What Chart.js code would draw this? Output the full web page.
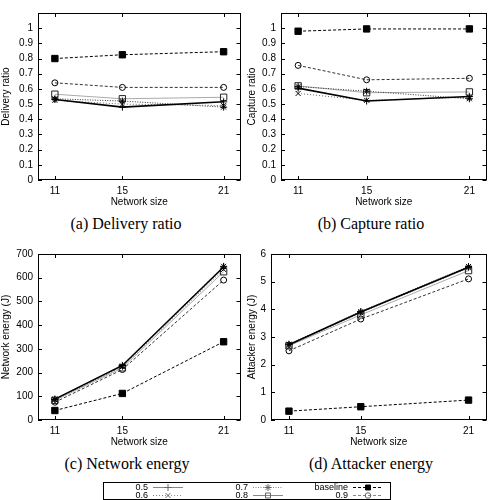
<!DOCTYPE html>
<html>
<head>
<meta charset="utf-8">
<script src="https://cdn.jsdelivr.net/npm/chart.js@4"></script>
<style>
  body { margin: 0; background: #fff; }
  #wrap { position: relative; width: 492px; height: 500px; }
  .plot { position: absolute; }
  .cap { position: absolute; font: 16px "Liberation Serif", serif; color: #000; transform: translate(-50%, -50%); white-space: nowrap; }
</style>
</head>
<body>
<div id="wrap">
  <div class="plot" style="left:0;top:0;width:246px;height:210px"><canvas id="c-delivery"></canvas></div>
  <div class="plot" style="left:246px;top:0;width:246px;height:210px"><canvas id="c-capture"></canvas></div>
  <div class="plot" style="left:0;top:240px;width:246px;height:210px"><canvas id="c-netenergy"></canvas></div>
  <div class="plot" style="left:246px;top:240px;width:246px;height:210px"><canvas id="c-attenergy"></canvas></div>
  <div class="cap" style="left:126px;top:224px">(a) Delivery ratio</div>
  <div class="cap" style="left:371px;top:224px">(b) Capture ratio</div>
  <div class="cap" style="left:127px;top:464px">(c) Network energy</div>
  <div class="cap" style="left:371px;top:464px">(d) Attacker energy</div>
  <canvas id="legend" width="295" height="22" style="position:absolute;left:100px;top:478px"></canvas>
</div>
<script>
/* ---------- Data ---------- */
const sizes = [11, 15, 21];
const seriesNames = ['0.5', '0.6', '0.7', '0.8', 'baseline', '0.9'];

// rows follow seriesNames order
const deliveryRatio = [
    [0.53, 0.48, 0.515],
    [0.525, 0.50, 0.49],
    [0.535, 0.52, 0.48],
    [0.565, 0.535, 0.545],
    [0.80, 0.825, 0.845],
    [0.64, 0.61, 0.61]
];
const captureRatio = [
    [0.605, 0.52, 0.55],
    [0.57, 0.525, 0.545],
    [0.615, 0.585, 0.535],
    [0.62, 0.575, 0.58],
    [0.98, 0.995, 0.995],
    [0.755, 0.66, 0.67]
];
const networkEnergy = [
    [88, 230, 645],
    [85, 225, 635],
    [87, 228, 648],
    [83, 220, 625],
    [40, 112, 330],
    [75, 213, 590]
];
const attackerEnergy = [
    [2.72, 3.90, 5.52],
    [2.70, 3.88, 5.50],
    [2.74, 3.92, 5.55],
    [2.68, 3.80, 5.40],
    [0.32, 0.48, 0.72],
    [2.50, 3.65, 5.10]
];

const ratioTicks = [0, 0.1, 0.2, 0.3, 0.4, 0.5, 0.6, 0.7, 0.8, 0.9, 1];
const netEnergyTicks = [0, 100, 200, 300, 400, 500, 600, 700];
const attEnergyTicks = [0, 1, 2, 3, 4, 5, 6];

/* ---------- Styles ---------- */
const seriesStyle = [
    { color: '#000', width: 1.6, dash: [], point: 'cross', radius: 3.5, fill: 'rgba(0,0,0,0)' },
    { color: '#666', width: 1, dash: [1, 2], point: 'crossRot', radius: 3.5, fill: 'rgba(0,0,0,0)' },
    { color: '#333', width: 1, dash: [1, 1.5], point: 'star', radius: 3.5, fill: 'rgba(0,0,0,0)' },
    { color: '#aaa', width: 1, dash: [], point: 'rect', radius: 4.5, fill: 'rgba(0,0,0,0)', pointColor: '#222' },
    { color: '#000', width: 1, dash: [3, 2], point: 'rect', radius: 4.5, fill: '#000' },
    { color: '#333', width: 1, dash: [3, 2], point: 'circle', radius: 3, fill: 'rgba(0,0,0,0)' }
];

const FONT = '"Liberation Sans", Arial, sans-serif';

/* ---------- Frame with inward ticks (gnuplot look) ---------- */
const framePlugin = {
    id: 'frame',
    afterDraw(chart) {
        const { ctx, chartArea: a, scales: { x, y } } = chart;
        ctx.save();
        ctx.strokeStyle = '#000';
        ctx.lineWidth = 1;
        ctx.setLineDash([]);
        ctx.strokeRect(Math.round(a.left) + 0.5, Math.round(a.top) + 0.5,
            Math.round(a.width) - 1, Math.round(a.height) - 1);
        ctx.beginPath();
        x.ticks.forEach(t => {
            const px = Math.round(x.getPixelForValue(t.value)) + 0.5;
            ctx.moveTo(px, a.bottom); ctx.lineTo(px, a.bottom - 4);
            ctx.moveTo(px, a.top); ctx.lineTo(px, a.top + 4);
        });
        y.ticks.forEach(t => {
            const py = Math.round(y.getPixelForValue(t.value)) + 0.5;
            ctx.moveTo(a.left, py); ctx.lineTo(a.left + 4, py);
            ctx.moveTo(a.right, py); ctx.lineTo(a.right - 4, py);
        });
        ctx.stroke();
        ctx.restore();
    }
};

function makeChart(id, rows, yTitle, yMax, yTicks, yWidth, padTop, fmt) {
    const datasets = rows.map((vals, i) => {
        const s = seriesStyle[i];
        return {
            label: seriesNames[i],
            data: sizes.map((sz, j) => ({ x: sz, y: vals[j] })),
            borderColor: s.color,
            borderWidth: s.width,
            borderDash: s.dash,
            pointStyle: s.point,
            pointRadius: s.radius,
            pointBorderColor: s.pointColor || '#000',
            pointBackgroundColor: s.fill,
            pointBorderWidth: 1,
            tension: 0,
            fill: false
        };
    });

    return new Chart(document.getElementById(id), {
        type: 'line',
        data: { datasets },
        options: {
            responsive: true,
            maintainAspectRatio: false,
            animation: false,
            layout: { padding: { top: padTop, right: 4, left: 0, bottom: 0 } },
            plugins: { legend: { display: false }, tooltip: { enabled: false } },
            scales: {
                x: {
                    type: 'linear',
                    min: 10, max: 22,
                    afterBuildTicks: sc => { sc.ticks = sizes.map(v => ({ value: v })); },
                    afterFit: sc => { sc.height = 30; },
                    grid: { display: false, drawTicks: false },
                    border: { display: false },
                    ticks: { color: '#000', font: { family: FONT, size: 10 }, padding: 5, maxRotation: 0 },
                    title: { display: true, text: 'Network size', color: '#000', font: { family: FONT, size: 10 }, padding: 2 }
                },
                y: {
                    min: 0, max: yMax,
                    afterBuildTicks: sc => { sc.ticks = yTicks.map(v => ({ value: v })); },
                    afterFit: sc => { sc.width = yWidth; },
                    grid: { display: false, drawTicks: false },
                    border: { display: false },
                    ticks: { color: '#000', font: { family: FONT, size: 10 }, padding: 5, callback: fmt },
                    title: { display: true, text: yTitle, color: '#000', font: { family: FONT, size: 10 }, padding: 0 }
                }
            }
        },
        plugins: [framePlugin]
    });
}

const fmtRatio = v => (Math.round(v * 10) / 10).toString();
const fmtInt = v => Math.round(v).toString();

makeChart('c-delivery', deliveryRatio, 'Delivery ratio', 1.1, ratioTicks, 38, 13, fmtRatio);
makeChart('c-capture', captureRatio, 'Capture ratio', 1.1, ratioTicks, 35, 13, fmtRatio);
makeChart('c-netenergy', networkEnergy, 'Network energy (J)', 700, netEnergyTicks, 38, 14, fmtInt);
makeChart('c-attenergy', attackerEnergy, 'Attacker energy (J)', 6, attEnergyTicks, 25, 14, fmtInt);

/* ---------- Shared legend ---------- */
function drawLegend() {
    const cv = document.getElementById('legend');
    const ctx = cv.getContext('2d');
    ctx.strokeStyle = '#000';
    ctx.lineWidth = 1;
    ctx.strokeRect(3.5, 4.5, 287, 17);

    const order = [[0, 2, 4], [1, 3, 5]];
    const rowY = [8.5, 17];
    const colText = [48, 148, 248];
    ctx.font = '9px ' + FONT;
    ctx.textAlign = 'right';
    ctx.textBaseline = 'middle';
    order.forEach((row, r) => {
        row.forEach((si, c) => {
            const s = seriesStyle[si];
            const y = Math.round(rowY[r]) + 0.5;
            ctx.fillStyle = '#000';
            ctx.fillText(seriesNames[si], colText[c], y);
            const x0 = colText[c] + 5, x1 = x0 + 30;
            ctx.save();
            ctx.strokeStyle = si === 4 ? '#000' : '#888';
            ctx.lineWidth = 1;
            ctx.setLineDash(s.dash);
            ctx.beginPath();
            ctx.moveTo(x0, y);
            ctx.lineTo(x1, y);
            ctx.stroke();
            ctx.restore();
            ctx.save();
            ctx.strokeStyle = si === 4 ? '#000' : '#666';
            ctx.fillStyle = s.fill;
            ctx.setLineDash([]);
            Chart.helpers.drawPoint(ctx, {
                pointStyle: s.point,
                radius: s.point === 'circle' ? 2.8 : 3.5,
                rotation: 0,
                borderWidth: 1
            }, (x0 + x1) / 2, y);
            ctx.restore();
        });
    });
}
drawLegend();
</script>
</body>
</html>
